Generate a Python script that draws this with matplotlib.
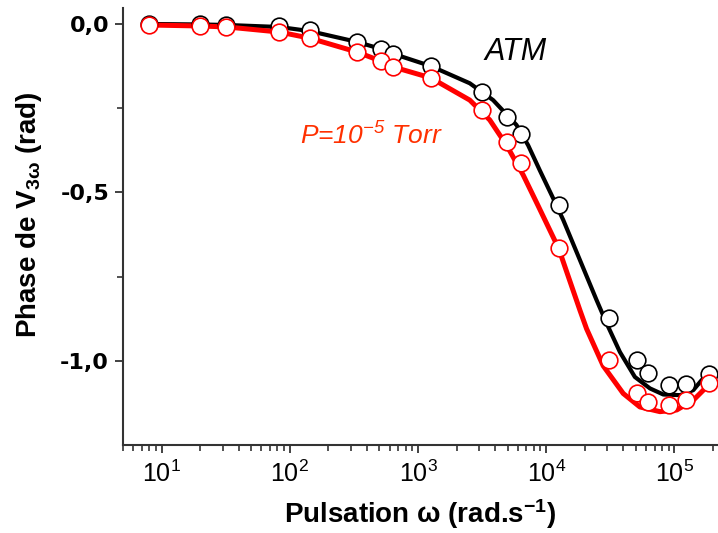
import numpy as np
from matplotlib import pyplot as plt

plt.rcParams['font.family'] = ['Liberation Sans', 'DejaVu Sans']
plt.rcParams['mathtext.default'] = 'regular'

"""measured points : pulsation (rad/s) and phase (rad)"""
omega = [8, 20, 32, 82, 143, 333, 512, 641, 1259, 3148, 4932, 6343,
         12560, 30840, 50800, 62200, 91200, 123300, 186000]
phase_atm = [0.0, -0.001, -0.002, -0.007, -0.019, -0.052, -0.074, -0.088,
             -0.125, -0.201, -0.277, -0.327, -0.538, -0.872, -0.998,
             -1.036, -1.072, -1.068, -1.040]
phase_vac = [-0.003, -0.006, -0.008, -0.024, -0.041, -0.083, -0.110, -0.129,
             -0.161, -0.255, -0.350, -0.414, -0.666, -0.998, -1.095,
             -1.123, -1.132, -1.115, -1.067]

"""fitted curves"""
fit_w_atm = [8, 20.5, 32.7, 83.4, 143, 333, 513, 647, 1259, 2535, 3855, 5870,
             7230, 8930, 11350, 13590, 18340, 24740, 29620, 37600, 49200,
             64500, 81900, 110600, 140500, 163500, 189800]
fit_atm = [0.0, -0.0015, -0.003, -0.009, -0.021, -0.053, -0.074, -0.089,
           -0.125, -0.176, -0.226, -0.300, -0.360, -0.435, -0.518, -0.582,
           -0.701, -0.820, -0.889, -0.974, -1.048, -1.082, -1.100, -1.102,
           -1.087, -1.057, -1.034]
fit_w_vac = [8, 20.5, 32.7, 83.4, 143, 333, 513, 647, 1259, 2535, 3630, 4910,
             6610, 8660, 12560, 14430, 18340, 20660, 27860, 39900, 53800,
             77200, 104300, 140500, 168400, 189800]
fit_vac = [-0.003, -0.006, -0.009, -0.024, -0.042, -0.083, -0.110, -0.128,
           -0.160, -0.226, -0.285, -0.360, -0.448, -0.540, -0.668, -0.735,
           -0.850, -0.905, -1.015, -1.097, -1.137, -1.151, -1.146, -1.117,
           -1.087, -1.063]

red = '#ff0000'

fig = plt.figure(figsize=(7.18, 5.33), dpi=100)
ax = fig.add_axes([0.1713, 0.1651, 0.8273, 0.8199])

ax.plot(fit_w_atm, fit_atm, color='black', lw=3, solid_joinstyle='round', zorder=2)
ax.plot(fit_w_vac, fit_vac, color=red, lw=3.6, solid_joinstyle='round', zorder=3)
ax.plot(omega, phase_atm, 'o', ms=12, mfc='white', mec='black', mew=1.2, zorder=4)
ax.plot(omega, phase_vac, 'o', ms=12, mfc='white', mec=red, mew=1.2, zorder=5)

ax.text(5800, -0.107, 'ATM', fontsize=22, style='italic', ha='center', va='baseline')
ax.text(435, -0.359, 'P=10$^{-5}$ Torr', fontsize=19, style='italic', color='#ff3000',
        ha='center', va='baseline')

ax.set_xscale('log')
ax.set_xlim(5, 2.15e5)
ax.set_ylim(-1.25, 0.0475)
ax.set_yticks([0.0, -0.5, -1.0])
ax.set_yticklabels(['0,0', '-0,5', '-1,0'])
ax.set_yticks([-0.25, -0.75], minor=True)

for s in ['top', 'right']:
    ax.spines[s].set_visible(False)
for s in ['left', 'bottom']:
    ax.spines[s].set_linewidth(1.5)
    ax.spines[s].set_color('#333333')

ax.tick_params(which='major', direction='out', length=6, width=1.3, color='#333333')
ax.tick_params(which='minor', direction='out', length=4, width=1.2, color='#333333')
ax.tick_params(axis='x', which='major', labelsize=18, pad=5)
ax.tick_params(axis='y', which='major', pad=4)
for lab in ax.get_yticklabels():
    lab.set_fontfamily('DejaVu Sans')
    lab.set_fontweight('bold')
    lab.set_fontsize(16)

ax.set_xlabel('Pulsation ω (rad.s$^{-1}$)', fontsize=20, fontweight='bold', va='center')
ax.xaxis.set_label_coords(0.5, -0.158)
ax.set_ylabel('Phase de V$_{3ω}$ (rad)', fontsize=20, fontweight='bold', va='center')
ax.yaxis.set_label_coords(-0.158, 0.526)

fig.savefig('out.png', dpi=100)
